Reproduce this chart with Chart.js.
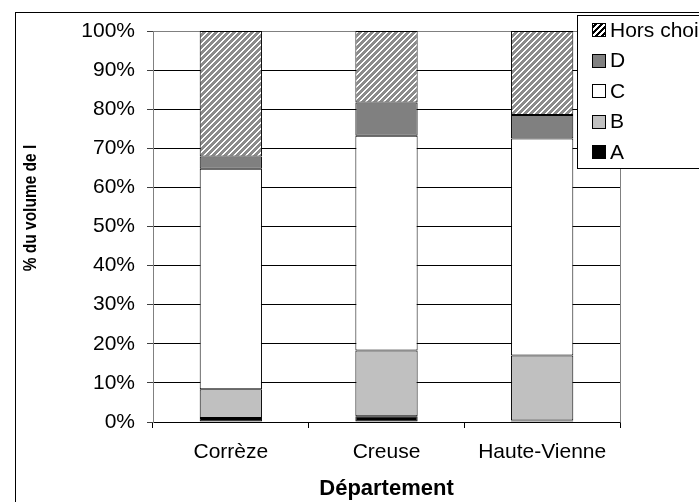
<!DOCTYPE html>
<html>
<head>
<meta charset="utf-8">
<script src="https://cdn.jsdelivr.net/npm/chart.js@4.4.1/dist/chart.umd.min.js"></script>
<style>
  html, body { margin: 0; padding: 0; background: #fff; }
  #chart { display: block; }
</style>
</head>
<body>
<canvas id="chart" width="699" height="502"></canvas>
<script>
// values, in % of volume
const departements = ['Corrèze', 'Creuse', 'Haute-Vienne'];
const classeA = [1.0, 1.5, 0.4];
const classeB = [7.4, 16.8, 16.6];
const classeC = [56.4, 54.9, 55.5];
const classeD = [3.1, 8.5, 6.0];
const horsChoix = [32.1, 18.3, 21.5];
const yTicks = [0, 10, 20, 30, 40, 50, 60, 70, 80, 90, 100];
const yTitle = '% du volume de l';

const FONT = "'Liberation Sans', Arial, sans-serif";

function stripes(fg, bg, on) {
    const c = document.createElement('canvas');
    c.width = 6;
    c.height = 6;
    const g = c.getContext('2d');
    g.fillStyle = bg;
    g.fillRect(0, 0, 6, 6);
    g.fillStyle = fg;
    for (let x = 0; x < 6; x++) {
        for (let y = 0; y < 6; y++) {
            if ((x + y) % 6 < on) g.fillRect(x, y, 1, 1);
        }
    }
    return g.createPattern(c, 'repeat');
}

const hatch = stripes('#8c8c8c', '#ffffff', 4);
const hatchDark = stripes('#000000', '#ffffff', 3);

function serie(label, data, color, legendColor) {
    return {
        label: label,
        data: data,
        backgroundColor: color,
        legendColor: legendColor || color,
        borderColor: '#000',
        borderWidth: 1,
        borderSkipped: false,
    };
}

// outer frame of the chart object
const frame = {
    id: 'frame',
    beforeDraw(chart) {
        const ctx = chart.ctx;
        ctx.save();
        ctx.strokeStyle = '#000';
        ctx.lineWidth = 1;
        ctx.strokeRect(15.5, 12.5, 900, 700);
        ctx.restore();
    }
};

// grey border of the plot area
const plotBorder = {
    id: 'plotBorder',
    beforeDatasetsDraw(chart) {
        const {ctx, chartArea: a} = chart;
        ctx.save();
        ctx.strokeStyle = '#808080';
        ctx.lineWidth = 1;
        ctx.beginPath();
        ctx.moveTo(Math.round(a.left) + 0.5, Math.round(a.bottom) + 0.5);
        ctx.lineTo(Math.round(a.left) + 0.5, Math.round(a.top) + 0.5);
        ctx.lineTo(Math.round(a.right) + 0.5, Math.round(a.top) + 0.5);
        ctx.lineTo(Math.round(a.right) + 0.5, Math.round(a.bottom) + 0.5);
        ctx.stroke();
        ctx.restore();
    }
};

// rotated y title, slightly widened like the source picture
const sideTitle = {
    id: 'sideTitle',
    afterDraw(chart) {
        const ctx = chart.ctx;
        ctx.save();
        ctx.translate(31, 208);
        ctx.scale(1.15, 1);
        ctx.rotate(-Math.PI / 2);
        ctx.font = 'bold 15.5px ' + FONT;
        ctx.fillStyle = '#000';
        ctx.textAlign = 'center';
        ctx.textBaseline = 'middle';
        ctx.fillText(yTitle, 0, 0);
        ctx.restore();
    }
};

// Excel-like legend box sitting over the top right corner
const boxLegend = {
    id: 'boxLegend',
    afterDraw(chart) {
        const ctx = chart.ctx;
        const items = chart.data.datasets.slice().reverse();
        const x0 = 577, y0 = 15, rowH = 30.5;
        ctx.save();
        ctx.fillStyle = '#fff';
        ctx.fillRect(x0, y0, 200, 153);
        ctx.strokeStyle = '#000';
        ctx.lineWidth = 1;
        ctx.strokeRect(x0 + 0.5, y0 + 0.5, 200, 153);
        ctx.font = '21px ' + FONT;
        ctx.textBaseline = 'middle';
        items.forEach((ds, i) => {
            const cy = y0 + 15 + i * rowH;
            ctx.fillStyle = ds.legendColor;
            ctx.fillRect(592, Math.round(cy - 7), 14, 14);
            ctx.strokeRect(592.5, Math.round(cy - 7) + 0.5, 13, 13);
            ctx.fillStyle = '#000';
            ctx.fillText(ds.label, 610, cy + 1);
        });
        ctx.restore();
    }
};

new Chart(document.getElementById('chart'), {
    type: 'bar',
    data: {
        labels: departements,
        datasets: [
            serie('A', classeA, '#000000'),
            serie('B', classeB, '#c0c0c0'),
            serie('C', classeC, '#ffffff'),
            serie('D', classeD, '#808080'),
            serie('Hors choix', horsChoix, hatch, hatchDark),
        ]
    },
    options: {
        responsive: false,
        animation: false,
        barPercentage: 0.4,
        categoryPercentage: 1,
        layout: {
            padding: {left: 0, top: 31, right: 79, bottom: 0}
        },
        scales: {
            x: {
                stacked: true,
                afterFit: s => { s.height = 80; },
                border: {color: '#000'},
                grid: {
                    offset: true,
                    drawOnChartArea: false,
                    tickLength: 6,
                    color: '#000',
                },
                ticks: {
                    color: '#000',
                    padding: 12,
                    font: {family: FONT, size: 21},
                },
                title: {
                    display: true,
                    text: 'Département',
                    color: '#000',
                    padding: {top: 0, bottom: 0},
                    font: {family: FONT, size: 22, weight: 'bold'},
                }
            },
            y: {
                stacked: true,
                min: 0,
                max: 100,
                afterFit: s => { s.width = 153; },
                afterBuildTicks: s => { s.ticks = yTicks.map(v => ({value: v})); },
                border: {color: '#808080'},
                grid: {
                    color: '#000',
                    tickColor: '#404040',
                    tickLength: 6,
                },
                ticks: {
                    color: '#000',
                    padding: 12,
                    font: {family: FONT, size: 21},
                    callback: v => v + '%',
                }
            }
        },
        plugins: {
            legend: {display: false},
            tooltip: {enabled: false},
        }
    },
    plugins: [frame, plotBorder, sideTitle, boxLegend]
});
</script>
</body>
</html>
